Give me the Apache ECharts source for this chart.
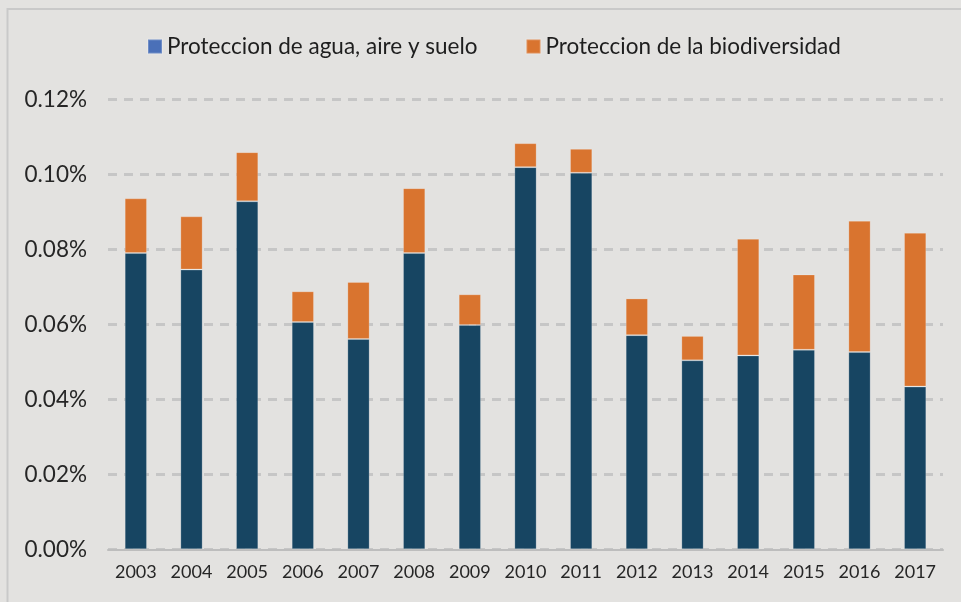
<!DOCTYPE html>
<html>
<head>
<meta charset="utf-8">
<script src="https://cdn.jsdelivr.net/npm/echarts@6/dist/echarts.min.js"></script>
<style>
  html, body { margin: 0; padding: 0; background: #e3e2e0; }
  #chart { width: 961px; height: 602px; }
</style>
</head>
<body>
<div id="chart"></div>
<script>
// Gasto en protección ambiental, % del PIB
const years = ['2003','2004','2005','2006','2007','2008','2009','2010','2011','2012','2013','2014','2015','2016','2017'];
const aguaAireSuelo = [0.0790, 0.0746, 0.0928, 0.0606, 0.0561, 0.0790, 0.0598, 0.1019, 0.1004, 0.0571, 0.0504, 0.0517, 0.0532, 0.0526, 0.0434];
const biodiversidad = [0.0146, 0.0142, 0.0131, 0.0082, 0.0152, 0.0173, 0.0082, 0.0064, 0.0064, 0.0098, 0.0065, 0.0311, 0.0201, 0.0350, 0.0410];
const seriesNames = ['Proteccion de agua, aire y suelo', 'Proteccion de la biodiversidad'];
const yTicks = { min: 0, max: 0.12, step: 0.02 };

const FONT = 'Lato, "Open Sans", sans-serif';
const chart = echarts.init(document.getElementById('chart'));

chart.setOption({
  backgroundColor: '#e3e2e0',
  animation: false,
  graphic: [{
    type: 'rect',
    shape: { x: 7.5, y: 9, width: 1000, height: 700 },
    style: { fill: 'none', stroke: '#c9c9c9', lineWidth: 2 },
    silent: true
  }],
  legend: {
    left: 142,
    top: 30,
    itemWidth: 14,
    itemHeight: 14,
    itemGap: 48,
    textStyle: { fontFamily: FONT, fontSize: 22.5, color: '#1e1e1e' },
    data: [
      { name: seriesNames[0], icon: 'rect', itemStyle: { color: '#4a70b8' } },
      { name: seriesNames[1], icon: 'rect', itemStyle: { color: '#d9742f' } }
    ]
  },
  grid: { left: 108, right: 18, top: 99.3, bottom: 52.7, containLabel: false },
  xAxis: {
    type: 'category',
    data: years,
    axisLine: { lineStyle: { color: '#bdbdbd', width: 2 } },
    axisTick: { show: false },
    axisLabel: { fontFamily: FONT, fontSize: 18, color: '#262626', margin: 14, interval: 0 }
  },
  yAxis: {
    type: 'value',
    min: yTicks.min,
    max: yTicks.max,
    interval: yTicks.step,
    axisLine: { show: false },
    axisTick: { show: false },
    axisLabel: {
      fontFamily: FONT, fontSize: 22.5, color: '#262626', margin: 21,
      formatter: v => v.toFixed(2) + '%'
    },
    splitLine: { lineStyle: { color: '#c6c6c6', width: 3, type: [9, 7] } }
  },
  series: [
    {
      name: seriesNames[0],
      type: 'bar',
      stack: 'total',
      barWidth: '40%',
      data: aguaAireSuelo,
      itemStyle: { color: '#174562', borderColor: 'rgba(255,255,255,0.2)', borderWidth: 1 }
    },
    {
      name: seriesNames[1],
      type: 'bar',
      stack: 'total',
      barWidth: '40%',
      data: biodiversidad,
      itemStyle: { color: '#d9742f', borderColor: 'rgba(255,255,255,0.2)', borderWidth: 1 }
    }
  ]
});
</script>
</body>
</html>
